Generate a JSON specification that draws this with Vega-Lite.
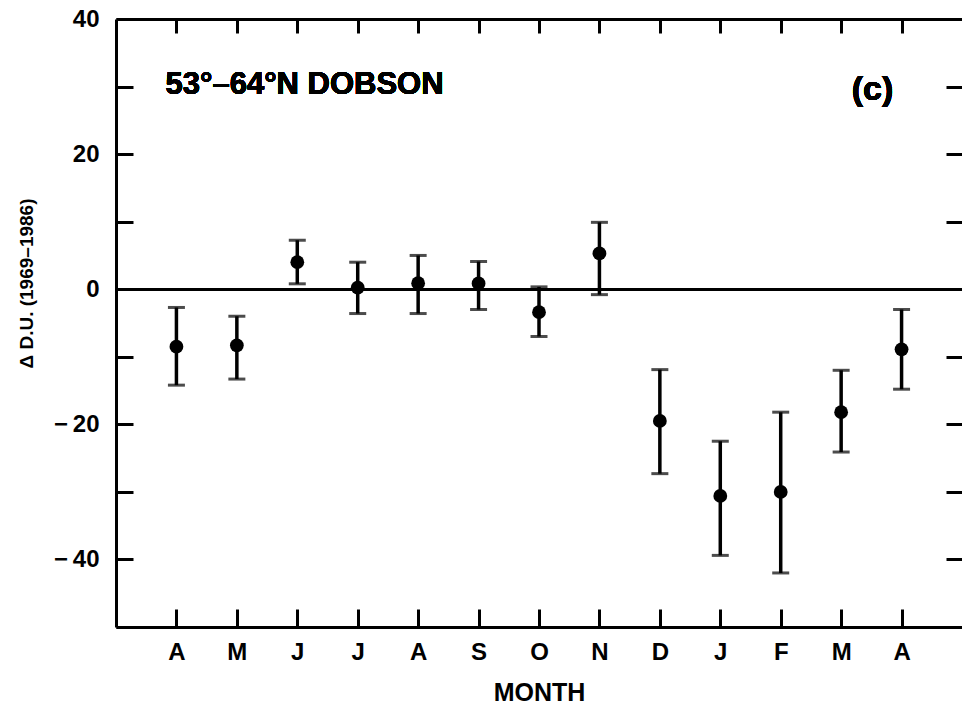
{
  "$schema": "https://vega.github.io/schema/vega-lite/v6.json",
  "width": 846,
  "height": 608,
  "autosize": {"type": "none"},
  "padding": {"left": 116, "top": 19, "right": 0, "bottom": 79},
  "background": "white",
  "config": {
    "view": {"stroke": null},
    "axis": {
      "domainColor": "black", "domainWidth": 3, "tickColor": "black", "tickWidth": 3,
      "labelColor": "black", "labelFont": "Liberation Sans", "labelFontWeight": "bold", "labelFontSize": 24,
      "titleColor": "black", "titleFont": "Liberation Sans", "titleFontWeight": "bold", "titleFontSize": 19,
      "grid": false
    }
  },
  "data": {
    "values": [
      {"m": 1, "month": "A", "v": -8.5, "lo": -14.2, "hi": -2.7},
      {"m": 2, "month": "M", "v": -8.3, "lo": -13.3, "hi": -4.0},
      {"m": 3, "month": "J", "v": 4.0, "lo": 0.8, "hi": 7.25},
      {"m": 4, "month": "J", "v": 0.25, "lo": -3.6, "hi": 4.0},
      {"m": 5, "month": "A", "v": 0.9, "lo": -3.6, "hi": 5.0},
      {"m": 6, "month": "S", "v": 0.85, "lo": -3.0, "hi": 4.1},
      {"m": 7, "month": "O", "v": -3.4, "lo": -7.0, "hi": 0.35},
      {"m": 8, "month": "N", "v": 5.3, "lo": -0.8, "hi": 9.9},
      {"m": 9, "month": "D", "v": -19.5, "lo": -27.3, "hi": -11.9},
      {"m": 10, "month": "J", "v": -30.6, "lo": -39.4, "hi": -22.5},
      {"m": 11, "month": "F", "v": -30.0, "lo": -42.0, "hi": -18.2},
      {"m": 12, "month": "M", "v": -18.2, "lo": -24.1, "hi": -12.0},
      {"m": 13, "month": "A", "v": -8.9, "lo": -14.8, "hi": -3.0}
    ]
  },
  "resolve": {"axis": {"x": "independent", "y": "independent"}},
  "layer": [
    {
      "mark": {"type": "circle", "size": 190, "color": "black", "opacity": 1},
      "encoding": {
        "x": {"field": "m", "type": "quantitative",
              "scale": {"domain": [0, 14], "nice": false, "zero": false},
              "axis": {"orient": "bottom", "title": "MONTH", "titleFontSize": 25, "values": [1,2,3,4,5,6,7,8,9,10,11,12,13],
                       "labelExpr": "['A','M','J','J','A','S','O','N','D','J','F','M','A'][datum.value-1]",
                       "tickSize": -18, "labelPadding": 31, "titlePadding": 16, "labelFlush": false}},
        "y": {"field": "v", "type": "quantitative",
              "scale": {"domain": [-50, 40], "nice": false, "zero": false},
              "axis": {"orient": "left", "title": "Δ D.U. (1969–1986)",
                       "values": [40,30,20,10,0,-10,-20,-30,-40,-50],
                       "labelExpr": "(datum.value % 20 == 0 && datum.value > -50) ? (datum.value < 0 ? '−\u2009' + toString(-datum.value) : toString(datum.value)) : ''",
                       "tickSize": -17, "labelPadding": 34, "titleX": -90, "titleY": 264, "titleBaseline": "middle", "labelFlush": false}}
      }
    },
    {
      "mark": {"type": "rule", "color": "black", "strokeWidth": 3.5},
      "encoding": {
        "x": {"field": "m", "type": "quantitative",
              "axis": {"orient": "top", "title": null, "labels": false, "values": [1,2,3,4,5,6,7,8,9,10,11,12,13], "tickSize": -14}},
        "y": {"field": "lo", "type": "quantitative",
              "axis": {"orient": "right", "title": null, "labels": false, "domain": false, "values": [40,30,20,10,0,-10,-20,-30,-40,-50], "tickSize": -16}},
        "y2": {"field": "hi"}
      }
    },
    {
      "mark": {"type": "tick", "orient": "horizontal", "color": "black", "size": 17, "thickness": 3},
      "encoding": {
        "x": {"field": "m", "type": "quantitative", "axis": null},
        "y": {"field": "lo", "type": "quantitative", "axis": null}
      }
    },
    {
      "mark": {"type": "tick", "orient": "horizontal", "color": "black", "size": 17, "thickness": 3},
      "encoding": {
        "x": {"field": "m", "type": "quantitative", "axis": null},
        "y": {"field": "hi", "type": "quantitative", "axis": null}
      }
    },
    {
      "mark": {"type": "rule", "color": "black", "strokeWidth": 2.5},
      "encoding": {"y": {"datum": 0, "type": "quantitative", "axis": null}}
    },
    {
      "mark": {"type": "text", "text": "53°–64°N DOBSON", "align": "left", "baseline": "middle", "font": "Liberation Sans", "fontWeight": "bold", "fontSize": 31, "color": "black"},
      "encoding": {"x": {"datum": 0.82, "type": "quantitative", "axis": null}, "y": {"datum": 30.2, "type": "quantitative", "axis": null}}
    },
    {
      "mark": {"type": "text", "text": "(c)", "align": "center", "baseline": "middle", "font": "Liberation Sans", "fontWeight": "bold", "fontSize": 34, "color": "black"},
      "encoding": {"x": {"datum": 12.52, "type": "quantitative", "axis": null}, "y": {"datum": 29.5, "type": "quantitative", "axis": null}}
    }
  ]
}
